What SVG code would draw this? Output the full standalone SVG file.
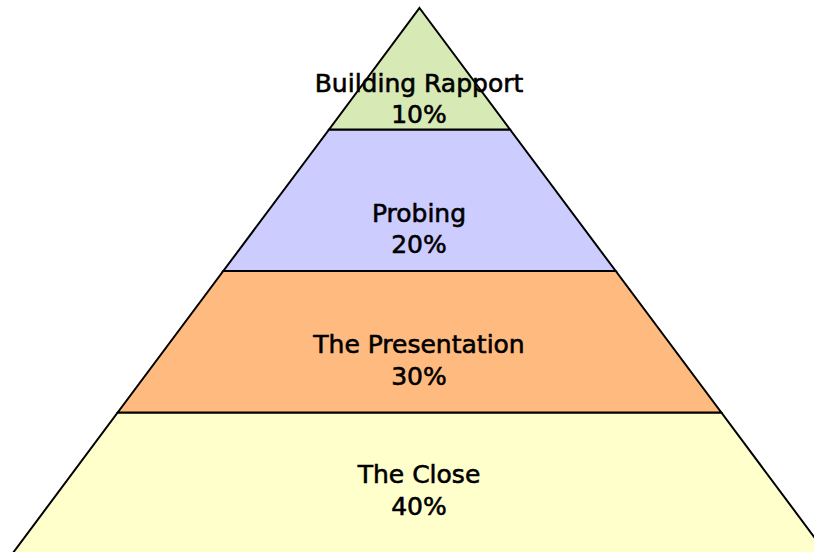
<svg xmlns="http://www.w3.org/2000/svg" width="814" height="552" viewBox="0 0 814 552">
<style>
.band{stroke:#000;stroke-width:2;stroke-linejoin:miter}
.lbl{font-family:"DejaVu Sans","Liberation Sans",sans-serif;font-size:25px;fill:#000;stroke:#000;stroke-width:0.6;text-anchor:middle}
</style>
<rect width="814" height="552" fill="#fff"/>
<g id="close">
<polygon class="band" fill="#FFFFCC" points="117.7,412.5 721.3,412.5 831.3,560 7.7,560"/>
<text class="lbl" x="419" y="483">The Close</text>
<text class="lbl" x="419" y="515">40%</text>
</g>
<g id="presentation">
<polygon class="band" fill="#FFBB7F" points="223.3,271 615.7,271 721.3,412.5 117.7,412.5"/>
<text class="lbl" x="419" y="353">The Presentation</text>
<text class="lbl" x="419" y="385">30%</text>
</g>
<g id="probing">
<polygon class="band" fill="#CCCCFF" points="329.1,129.5 510,129.5 615.7,271 223.3,271"/>
<text class="lbl" x="419" y="222">Probing</text>
<text class="lbl" x="419" y="253">20%</text>
</g>
<g id="rapport">
<polygon class="band" fill="#D7E9B5" points="419.5,8 510,129.5 329.1,129.5"/>
<text class="lbl" x="419" y="92">Building Rapport</text>
<text class="lbl" x="419" y="123">10%</text>
</g>
<g id="connectors"/>
</svg>
